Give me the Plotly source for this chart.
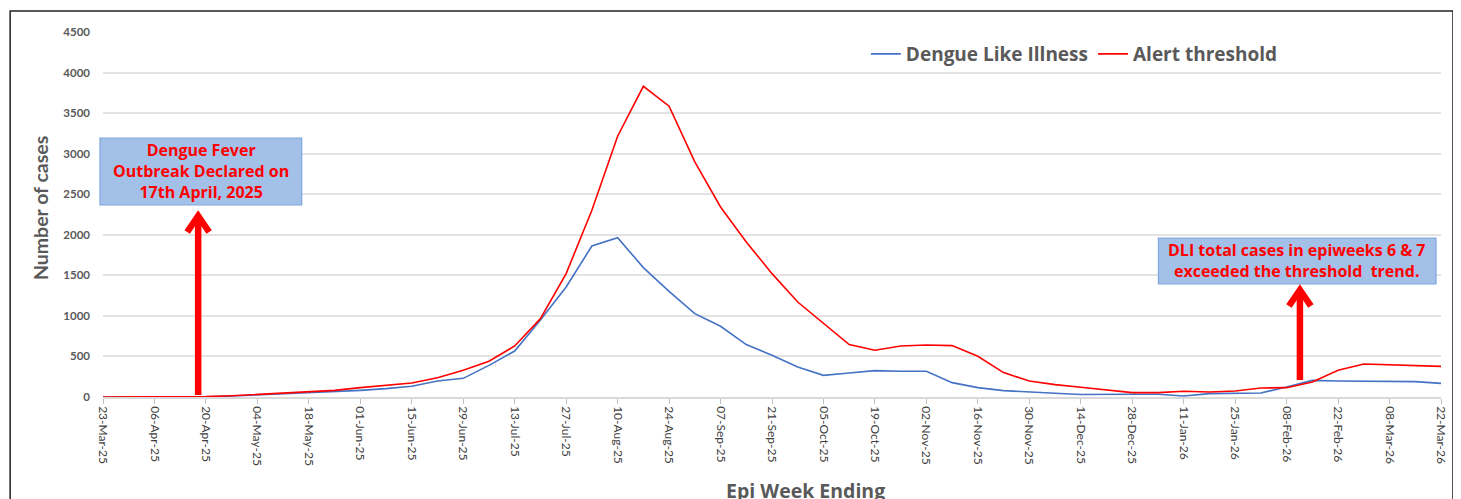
import plotly.graph_objects as go

weeks = ["23-Mar-25","30-Mar-25","06-Apr-25","13-Apr-25","20-Apr-25","27-Apr-25","04-May-25","11-May-25",
         "18-May-25","25-May-25","01-Jun-25","08-Jun-25","15-Jun-25","22-Jun-25","29-Jun-25","06-Jul-25",
         "13-Jul-25","20-Jul-25","27-Jul-25","03-Aug-25","10-Aug-25","17-Aug-25","24-Aug-25","31-Aug-25",
         "07-Sep-25","14-Sep-25","21-Sep-25","28-Sep-25","05-Oct-25","12-Oct-25","19-Oct-25","26-Oct-25",
         "02-Nov-25","09-Nov-25","16-Nov-25","23-Nov-25","30-Nov-25","07-Dec-25","14-Dec-25","21-Dec-25",
         "28-Dec-25","04-Jan-26","11-Jan-26","18-Jan-26","25-Jan-26","01-Feb-26","08-Feb-26","15-Feb-26",
         "22-Feb-26","01-Mar-26","08-Mar-26","15-Mar-26","22-Mar-26"]

dli = [0,0,1,2,3,12,25,37,49,70,82,103,132,197,230,390,567,950,1356,1862,1965,1595,1303,1028,
       872,646,514,370,267,296,325,318,318,177,116,79,67,46,30,27,33,33,12,41,49,49,123,205,
       197,197,189,189,168]

alert = [0,0,2,3,5,15,33,49,70,82,115,148,173,238,329,440,629,966,1521,2302,3215,3831,3585,2898,
         2343,1911,1521,1171,905,646,576,629,641,634,502,301,197,153,120,88,54,54,70,62,74,111,115,185,
         329,407,395,387,378]

tick_labels = weeks[::2]
y_ticks = [0,500,1000,1500,2000,2500,3000,3500,4000,4500]

# page body margin offsets the figure by 8px; compensate so the screenshot matches
OFF = 8
SW, SH = 1461, 499
W, H = SW - OFF, SH - OFF
X0, X1, Y0, Y1 = 103, 1443, 32, 397          # plot area in screen pixels
L, T = X0 - OFF, Y0 - OFF
R, B = (OFF + W) - X1, (OFF + H) - Y1
PW, PH = X1 - X0, Y1 - Y0

def px(x):
    return (x - X0) / PW

def py(y):
    return (Y1 - y) / PH

fig = go.Figure()
fig.add_trace(go.Scatter(x=weeks, y=dli, mode="lines", name="Dengue Like Illness",
                         line=dict(color="#4472C4", width=1.6)))
fig.add_trace(go.Scatter(x=weeks, y=alert, mode="lines", name="Alert threshold",
                         line=dict(color="#FF0000", width=1.6)))

grey = "#595959"
bold_font = "'Open Sans', Lato, sans-serif"
fig.update_layout(
    width=W, height=H,
    margin=dict(l=L, r=R, t=T, b=B, pad=0),
    paper_bgcolor="white", plot_bgcolor="white",
    font=dict(family="Lato, 'Open Sans', sans-serif", color=grey),
    showlegend=True,
    legend=dict(orientation="h", x=px(867), y=py(54), xanchor="left", yanchor="middle",
                font=dict(size=19, color=grey, family=bold_font, weight="bold"),
                bgcolor="rgba(0,0,0,0)", itemwidth=30, tracegroupgap=0),
    xaxis=dict(type="category", range=[0, len(weeks) - 1], tickmode="array",
               tickvals=tick_labels, ticktext=tick_labels, tickangle=90,
               tickfont=dict(size=12, color="#404040", family="Lato, sans-serif"),
               ticks="outside", ticklen=5, tickcolor="#bfbfbf",
               showline=True, linecolor="#d9d9d9", linewidth=1.5,
               showgrid=False, zeroline=False),
    yaxis=dict(range=[0, 4500], tickvals=y_ticks, showgrid=True, gridcolor="#e3e3e3", gridwidth=1.5,
               tickfont=dict(size=11.5, color=grey, family="Lato, sans-serif", weight="bold"),
               ticks="", ticklabelstandoff=12, zeroline=False, showline=False),
)

# axis titles
fig.add_annotation(text="<b>Number of cases</b>", xref="paper", yref="paper",
                   x=px(40), y=py(208), textangle=-90, showarrow=False,
                   font=dict(size=19.5, color=grey, family="Lato, sans-serif"),
                   xanchor="center", yanchor="middle")
fig.add_annotation(text="<b>Epi Week Ending</b>", xref="paper", yref="paper",
                   x=px(807), y=py(490), showarrow=False,
                   font=dict(size=19.5, color=grey, family=bold_font),
                   xanchor="center", yanchor="middle")

# outer frame
fig.add_shape(type="rect", xref="paper", yref="paper", x0=px(10), x1=px(1455), y0=py(530), y1=py(11),
              line=dict(color="#222222", width=1.5), fillcolor="rgba(0,0,0,0)", layer="above")

# text boxes
box_fill = "#a3c0e8"
box_line = "#7ea6db"
fig.add_shape(type="rect", xref="paper", yref="paper", x0=px(100), x1=px(302), y0=py(205), y1=py(138),
              line=dict(color=box_line, width=1.2), fillcolor=box_fill, layer="above")
fig.add_annotation(text="<b>Dengue Fever<br>Outbreak Declared on<br>17th April, 2025</b>",
                   xref="paper", yref="paper", x=px(201), y=py(170.5), showarrow=False,
                   font=dict(size=16, color="#FF0000", family=bold_font), align="center",
                   xanchor="center", yanchor="middle")

fig.add_shape(type="rect", xref="paper", yref="paper", x0=px(1160), x1=px(1438), y0=py(284), y1=py(238),
              line=dict(color=box_line, width=1.2), fillcolor=box_fill, layer="above")
fig.add_annotation(text="<b>DLI total cases in epiweeks 6 &amp; 7<br>exceeded the threshold  trend.</b>",
                   xref="paper", yref="paper", x=px(1299), y=py(260), showarrow=False,
                   font=dict(size=16, color="#FF0000", family=bold_font), align="center",
                   xanchor="center", yanchor="middle")

# arrows
def arrow(xc, ytip, ybase, half=11, head=17):
    fig.add_shape(type="line", xref="paper", yref="paper", x0=px(xc), x1=px(xc),
                  y0=py(ybase), y1=py(ytip + 3), line=dict(color="#FF0000", width=6.5), layer="above")
    fig.add_shape(type="path", xref="paper", yref="paper",
                  path=f"M {px(xc-half)} {py(ytip+head)} L {px(xc)} {py(ytip)} L {px(xc+half)} {py(ytip+head)}",
                  line=dict(color="#FF0000", width=6.5), layer="above")

arrow(198.3, 216, 395, half=11, head=16)
arrow(1301.7, 290, 380, half=11, head=16)

fig.write_html("out.html")
